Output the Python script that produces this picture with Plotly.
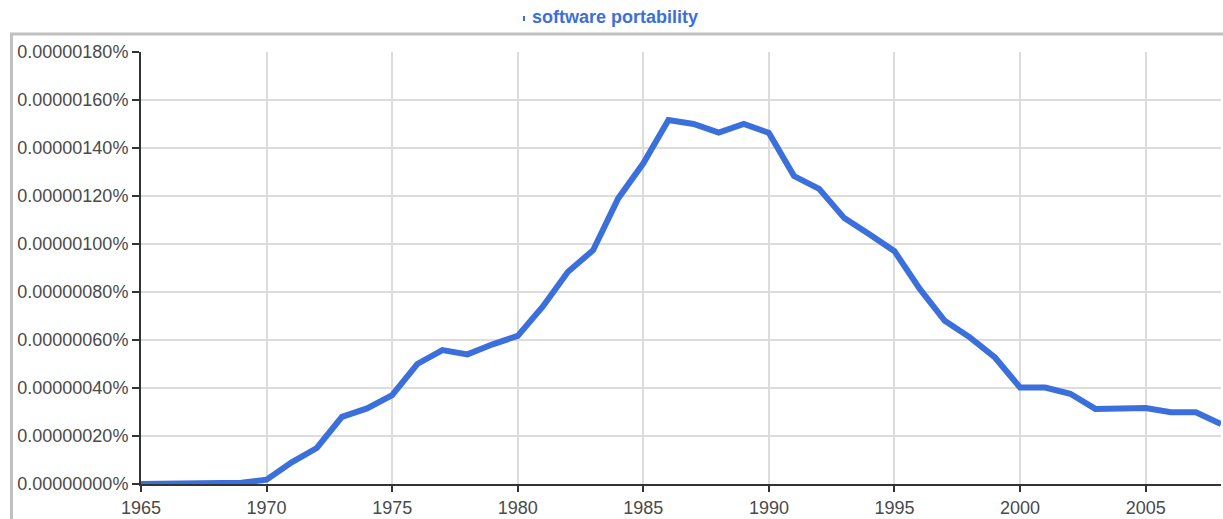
import plotly.graph_objects as go

years = list(range(1965, 2009))
# values in units of 1e-8 percent
values_e8 = [0, 0, 0, 0.5, 0.5, 1.8, 9, 15, 28, 31.5, 37, 50, 55.8, 54, 58.2, 61.7,
             74, 88.4, 97.4, 119, 133.6, 151.7, 150, 146.4, 150, 146.3,
             128.3, 123, 110.8, 104.1, 97, 81.4, 68, 61.1, 52.7, 40.2,
             40.2, 37.6, 31.3, 31.5, 31.7, 29.9, 29.9, 25]
values = [v * 1e-8 for v in values_e8]
series_name = "software portability"
y_ticks = [i * 2e-7 for i in range(10)]
x_ticks = list(range(1965, 2010, 5))

W, H = 1223, 519
L, R, T, B = 141, 2, 52, 35
pw, ph = W - L - R, H - T - B

def px_x(p):
    return (p - L) / pw

def px_y(p):
    return (H - B - p) / ph

fig = go.Figure()
fig.add_trace(go.Scatter(
    x=years, y=values, mode="lines", name=series_name,
    line=dict(color="#3b6fdc", width=6), cliponaxis=True,
))

frame = "#c0c0c0"
fig.add_shape(type="line", xref="paper", yref="paper",
              x0=px_x(10), x1=px_x(1240), y0=px_y(34), y1=px_y(34),
              line=dict(color=frame, width=3), layer="below")
fig.add_shape(type="line", xref="paper", yref="paper",
              x0=px_x(11.5), x1=px_x(11.5), y0=px_y(34), y1=px_y(540),
              line=dict(color=frame, width=3), layer="below")
# small legend-like marker before the title
fig.add_shape(type="line", xref="paper", yref="paper",
              x0=px_x(524), x1=px_x(524), y0=px_y(16), y1=px_y(21),
              line=dict(color="#3b6fdc", width=2))

fig.update_layout(
    width=W, height=H,
    margin=dict(l=L, r=R, t=T, b=B, pad=0),
    paper_bgcolor="white", plot_bgcolor="white",
    showlegend=False,
    title=dict(text="<b>" + series_name + "</b>", x=px_x(615), xanchor="center",
               y=1 - 17 / H, yanchor="middle", xref="paper",
               font=dict(family="Liberation Sans, Arial", size=18, color="#3b6fdc")),
    font=dict(family="Liberation Sans, Arial", size=18, color="#4a4a4a"),
)
fig.update_xaxes(
    range=[1965, 2008], tickvals=x_ticks, ticktext=[str(v) for v in x_ticks],
    showgrid=True, gridcolor="#dcdcdc", gridwidth=1.5,
    showline=True, linecolor="#333333", linewidth=2,
    ticks="outside", ticklen=6, tickwidth=2, tickcolor="#333333",
    zeroline=False, fixedrange=True,
)
fig.update_yaxes(
    range=[0, 1.8e-6], tickvals=y_ticks,
    ticktext=["%.8f%%" % v for v in y_ticks],
    showgrid=True, gridcolor="#dcdcdc", gridwidth=1.5,
    showline=True, linecolor="#333333", linewidth=2,
    ticks="outside", ticklen=7, tickwidth=2, tickcolor="#333333",
    zeroline=False, fixedrange=True,
)

fig.write_html("out.html", config={"displayModeBar": False},
               post_script="document.body.style.margin='0';document.body.style.overflow='hidden';")
